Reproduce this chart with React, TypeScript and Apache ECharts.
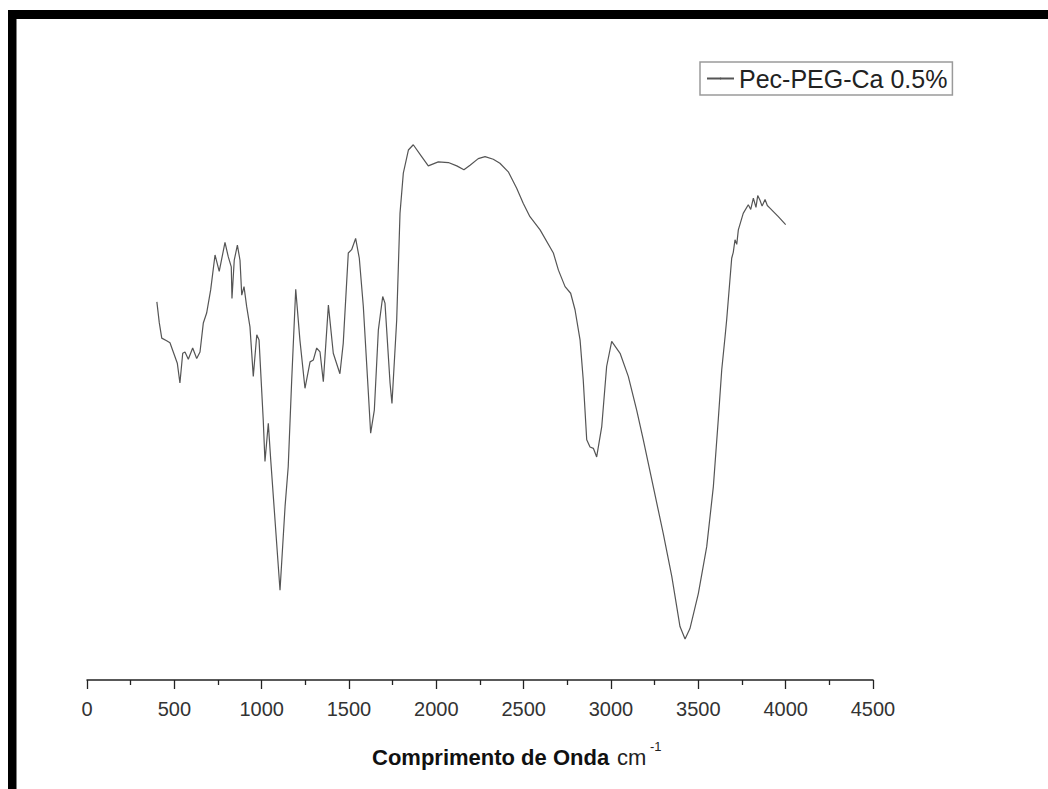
import React, { useEffect, useRef } from "react";
import * as echarts from "echarts";

const seriesName = "Pec-PEG-Ca 0.5%";
const xTicks = [0, 500, 1000, 1500, 2000, 2500, 3000, 3500, 4000, 4500];

// wavenumber (cm-1)
const wavenumbers = [
  400, 414, 428, 456, 475, 494, 517, 532, 548, 561, 580, 605, 628, 647, 666, 685, 708, 733, 757, 790,
  809, 826, 830, 843, 861, 876, 886, 899, 914, 933, 952, 972, 985, 1009, 1019, 1038, 1052, 1105, 1134, 1152,
  1172, 1195, 1219, 1248, 1277, 1296, 1315, 1334, 1353, 1382, 1410, 1448, 1467, 1496, 1515, 1538, 1559, 1582, 1611, 1624,
  1645, 1668, 1693, 1706, 1735, 1746, 1773, 1792, 1811, 1840, 1868, 1916, 1954, 2011, 2069, 2117, 2158, 2193, 2240, 2279,
  2326, 2364, 2412, 2460, 2498, 2536, 2594, 2670, 2699, 2737, 2769, 2794, 2823, 2841, 2861, 2880, 2899, 2918, 2947, 2975,
  3004, 3052, 3099, 3147, 3185, 3242, 3299, 3348, 3395, 3424, 3452, 3500, 3548, 3586, 3614, 3634, 3653, 3662, 3691, 3700,
  3710, 3720, 3729, 3757, 3786, 3800, 3815, 3830, 3840, 3853, 3865, 3882, 3895, 3910, 3958, 4000,
];
// transmittance (arbitrary %)
const transmittance = [
  57.3, 54.1, 51.8, 51.4, 51.1, 49.7, 48.0, 45.0, 49.5, 49.7, 48.6, 50.3, 48.7, 49.7, 54.1, 55.6, 59.1, 64.4, 61.9, 66.3,
  64.1, 62.6, 57.8, 63.6, 65.9, 63.6, 58.3, 59.6, 56.6, 53.5, 46.0, 52.3, 51.5, 39.4, 33.1, 38.9, 33.3, 13.6, 26.3, 32.3,
  45.5, 59.2, 51.5, 44.2, 48.2, 48.5, 50.3, 49.7, 45.2, 56.8, 49.5, 46.4, 51.0, 64.7, 65.2, 66.9, 63.9, 56.6, 43.4, 37.4,
  40.9, 53.0, 58.1, 57.1, 45.0, 41.9, 54.5, 70.7, 76.8, 80.3, 81.1, 79.3, 77.9, 78.5, 78.4, 77.9, 77.3, 78.0, 79.0, 79.3,
  78.9, 78.3, 77.0, 74.5, 72.2, 70.2, 68.2, 64.7, 62.1, 59.6, 58.6, 56.1, 51.5, 45.5, 36.4, 35.3, 35.1, 33.8, 38.4, 47.5,
  51.3, 49.5, 46.0, 40.9, 36.4, 29.3, 22.2, 15.7, 8.1, 6.2, 7.8, 13.1, 20.2, 29.3, 39.4, 47.0, 52.0, 54.5, 63.9, 64.8,
  66.7, 66.0, 68.2, 70.7, 72.0, 71.3, 73.0, 71.6, 73.4, 72.7, 71.8, 72.8, 71.9, 71.5, 70.2, 69.0,
];

const FONT = "'Liberation Sans', Arial, sans-serif";

export default function App() {
  const ref = useRef<HTMLDivElement>(null);
  useEffect(() => {
    if (!ref.current) return;
    const chart = echarts.init(ref.current, undefined, { renderer: "svg" });
    const data = wavenumbers.map((w, i) => [w, transmittance[i]]);
    chart.setOption({
      animation: false,
      backgroundColor: "#ffffff",
      grid: { left: 87, right: 175, top: 20, bottom: 109, containLabel: false },
      legend: {
        show: true,
        left: 700,
        top: 62,
        orient: "horizontal",
        borderColor: "#9a9a9a",
        borderWidth: 1.5,
        padding: [4, 5, 4, 6],
        itemWidth: 27,
        itemHeight: 2,
        textStyle: { fontFamily: FONT, fontSize: 25, color: "#222" },
        data: [{ name: seriesName }],
      },
      xAxis: {
        type: "value",
        min: 0,
        max: 4500,
        interval: 500,
        axisLine: { show: true, lineStyle: { color: "#222", width: 1.5 } },
        axisTick: { show: true, inside: false, length: 9, lineStyle: { color: "#222", width: 1.3 } },
        minorTick: { show: true, splitNumber: 2, length: 5, lineStyle: { color: "#222", width: 1.3 } },
        splitLine: { show: false },
        minorSplitLine: { show: false },
        axisLabel: {
          show: true,
          margin: 19,
          fontFamily: FONT,
          fontSize: 20,
          color: "#333",
          customValues: xTicks,
          formatter: (v: number) => String(v),
        },
      },
      yAxis: {
        type: "value",
        min: 0,
        max: 100,
        show: false,
      },
      series: [
        {
          name: seriesName,
          type: "line",
          data,
          symbol: "none",
          smooth: false,
          lineStyle: { color: "#555", width: 1.2 },
          itemStyle: { color: "#555" },
        },
      ],
      graphic: [
        { type: "rect", shape: { x: 8, y: 10, width: 1040, height: 9 }, style: { fill: "#000" }, silent: true },
        { type: "rect", shape: { x: 8, y: 10, width: 8.5, height: 779 }, style: { fill: "#000" }, silent: true },
        {
          type: "text",
          x: 372,
          y: 757,
          style: {
            text: "Comprimento de Onda",
            font: `bold 22px ${FONT}`,
            fill: "#111",
            verticalAlign: "middle",
          },
        },
        {
          type: "text",
          x: 617,
          y: 757,
          style: {
            text: "cm",
            font: `22px ${FONT}`,
            fill: "#222",
            verticalAlign: "middle",
          },
        },
        {
          type: "text",
          x: 650,
          y: 746,
          style: {
            text: "-1",
            font: `13px ${FONT}`,
            fill: "#222",
            verticalAlign: "middle",
          },
        },
      ],
    });
    return () => chart.dispose();
  }, []);
  return (
    <div
      ref={ref}
      style={{ position: "fixed", left: 0, top: 0, width: 1048, height: 789, background: "#fff" }}
    />
  );
}
